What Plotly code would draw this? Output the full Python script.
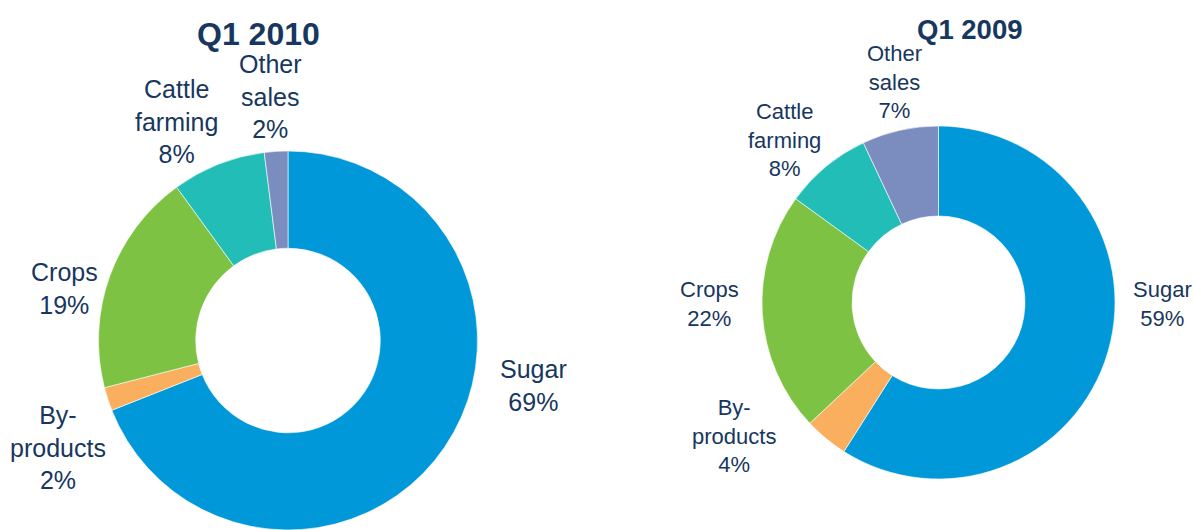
import plotly.graph_objects as go

# ---- data ----
categories = ["Sugar", "By-products", "Crops", "Cattle farming", "Other sales"]
display_labels = ["Sugar", "By-<br>products", "Crops", "Cattle<br>farming", "Other<br>sales"]
values_2010 = [69, 2, 19, 8, 2]
values_2009 = [59, 4, 22, 8, 7]
titles = ["Q1 2010", "Q1 2009"]

# ---- style / layout ----
colors = ["#0098D9", "#FAAF5F", "#7DC243", "#23BDB8", "#7B8CBE"]
W, H = 1194, 530
TEXT = "#17375E"
FONT = "Liberation Sans, Arial, sans-serif"

# label block centres (pixels from top-left) for each slice, in category order
label_pos_2010 = [(533, 385), (58, 447), (64, 288), (176, 122), (270, 97)]
label_pos_2009 = [(1162, 304), (734, 436), (710, 304), (784, 140), (894, 82)]


def px(x, y):
    return x / W, 1 - y / H


def domain(cx, cy, r):
    return dict(x=[(cx - r) / W, (cx + r) / W],
                y=[max(0, 1 - (cy + r) / H), min(1, 1 - (cy - r) / H)])


fig = go.Figure()
charts = [
    (values_2010, domain(288, 342, 191), 0.487, label_pos_2010, 25, titles[0], (258.5, 34), 32),
    (values_2009, domain(938.5, 302.5, 176.5), 0.49, label_pos_2009, 22, titles[1], (969.5, 30), 27.5),
]
for vals, dom, hole, lpos, fsize, title, tpos, tsize in charts:
    fig.add_trace(go.Pie(
        labels=categories, values=vals, textinfo="none",
        marker=dict(colors=colors, line=dict(color="white", width=0.6)),
        hole=hole, sort=False, direction="clockwise", rotation=0,
        domain=dom, showlegend=False, hoverinfo="label+percent",
    ))
    total = sum(vals)
    for lab, v, (lx, ly) in zip(display_labels, vals, lpos):
        x, y = px(lx, ly)
        fig.add_annotation(text=f"{lab}<br>{round(100 * v / total)}%", x=x, y=y,
                           xref="paper", yref="paper", xanchor="center", yanchor="middle",
                           showarrow=False, font=dict(family=FONT, size=fsize, color=TEXT))
    x, y = px(*tpos)
    fig.add_annotation(text=f"<b>{title}</b>", x=x, y=y, xref="paper", yref="paper",
                       xanchor="center", yanchor="middle",
                       showarrow=False, font=dict(family=FONT, size=tsize, color=TEXT))

fig.update_layout(width=W, height=H, margin=dict(l=0, r=0, t=0, b=0, autoexpand=False),
                  paper_bgcolor="white", plot_bgcolor="white")
fig.write_html("out.html", config={"displayModeBar": False},
               post_script="document.body.style.margin='0';document.body.style.overflow='hidden';")
